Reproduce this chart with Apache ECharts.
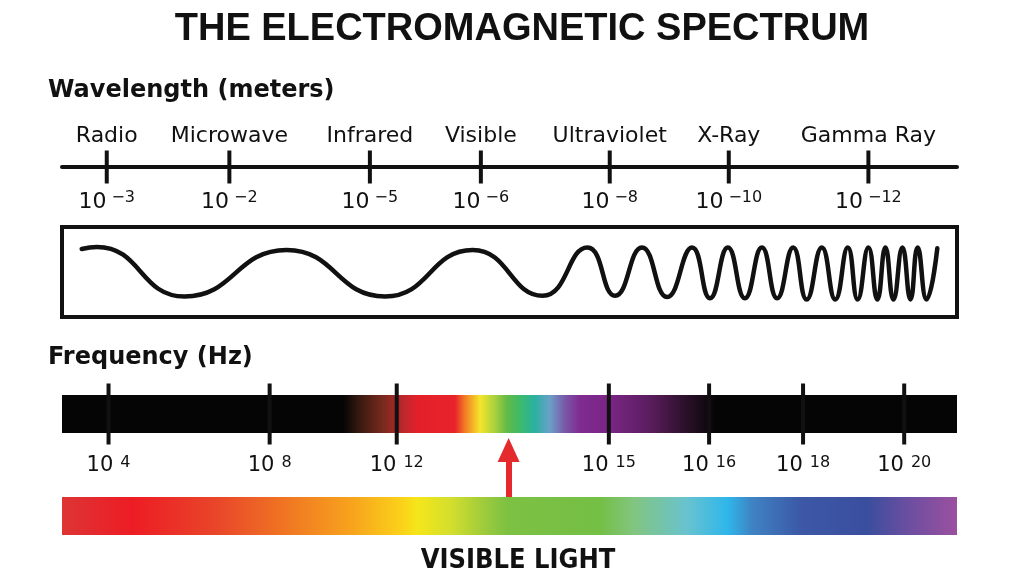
<!DOCTYPE html>
<html>
<head>
<meta charset="utf-8">
<title>The Electromagnetic Spectrum</title>
<script src="https://cdn.jsdelivr.net/npm/echarts@6/dist/echarts.min.js"></script>
<style>
  html, body { margin: 0; padding: 0; background: #fff; }
  #chart { width: 1022px; height: 575px; }
</style>
</head>
<body>
<div id="chart"></div>
<script>
// wavelength scale (top) - positions are % along the scale
const bandNames = ['Radio', 'Microwave', 'Infrared', 'Visible', 'Ultraviolet', 'X-Ray', 'Gamma Ray'];
const wavelengthExp = [-3, -2, -5, -6, -8, -10, -12];
const wavelengthAt = [5.0, 18.7, 34.4, 46.8, 61.2, 74.5, 90.1];

// turning points of the drawn wave (% along, amplitude)
const waveX = [2.2, 3.9, 13.7, 25.1, 36.1, 45.9, 53.7, 58.7, 61.8, 64.8, 67.6, 70.4, 72.4, 74.4, 76.3,
  78.2, 79.9, 81.7, 83.2, 84.9, 86.4, 87.8, 88.9, 90.1, 91.1, 92.0, 92.9, 93.9, 94.8, 95.6, 96.6, 97.8];
const waveY = [0.92, 1.0, -0.98, 0.88, -0.98, 0.88, -0.95, 0.98, -0.95, 0.98, -1.0, 0.98, -1.05, 0.98, -1.05,
  0.98, -1.05, 0.98, -1.1, 0.98, -1.1, 0.98, -1.1, 0.98, -1.1, 0.98, -1.1, 0.98, -1.1, 0.98, -1.1, 0.95];

// frequency scale
const freqExp = [4, 8, 12, 15, 16, 18, 20];
const freqAt = [5.2, 23.2, 37.4, 61.1, 72.3, 82.8, 94.1];
const freqStops = [0, 31.4, 33.3, 35.9, 38.3, 39.7, 43.9, 45.0, 46.7, 48.4, 49.7, 51.2, 52.8, 54.5, 56.2, 57.9, 61.2, 65.7, 69.8, 73.2, 100];
const freqColors = ['#050505', '#050505', '#3a1a10', '#7a2a1e', '#c0272d', '#e3202a', '#e8232a', '#f27a24', '#f5e52a', '#a8d040',
  '#62bb46', '#3dba6a', '#2ab0a0', '#6aa0c8', '#7a58a8', '#7f2b90', '#7a2585', '#5a1d5e', '#2a1028', '#050505', '#050505'];

// visible light
const visibleAt = 49.9;
const visStops = [0, 7.9, 17.3, 24.7, 32.2, 37.8, 39.7, 43.4, 47.0, 49.7, 60.1, 63.8, 69.8, 74.3, 77.2, 82.5, 89.9, 94.4, 100];
const visColors = ['#dd3535', '#ed1c24', '#e9462a', '#f07423', '#f7a21d', '#fbd01a', '#f5e61b', '#d4df2c', '#a0cc3b', '#7dc143',
  '#74bf45', '#82c57e', '#69c3cf', '#2fb7ea', '#3f82c2', '#3c58a7', '#3a4e9e', '#6a4ea0', '#9c50a0'];

const ink = '#111';
const red = '#e42a2d';
const font = '"DejaVu Sans", sans-serif';

const gradient = (stops, colors) => new echarts.graphic.LinearGradient(0, 0, 1, 0,
  stops.map((s, i) => ({ offset: s / 100, color: colors[i] })));
const sup = n => (n < 0 ? '\u2212' + Math.abs(n) : String(n));

const powerLabel = (exps, size, gap, dy) => ({
  show: true,
  position: 'inside',
  offset: [0, dy],
  formatter: p => `{b|10}{s|${sup(exps[p.dataIndex])}}`,
  rich: {
    b: { fontSize: size, fontFamily: font, color: ink, lineHeight: size + 2 },
    s: { fontSize: 16, fontFamily: font, color: ink, lineHeight: 14, verticalAlign: 'top', padding: [0, 0, 0, gap] }
  }
});

const grids = [
  { left: 62, width: 895, top: 120, height: 94 },
  { left: 62, width: 895, top: 227, height: 90, show: true, borderColor: ink, borderWidth: 4 },
  { left: 62, width: 895, top: 395, height: 38 },
  { left: 62, width: 895, top: 450, height: 47 },
  { left: 62, width: 895, top: 497, height: 38 }
];

const hidden = { show: false, splitLine: { show: false } };
const xAxes = grids.map((g, i) => i === 0
  ? { gridIndex: 0, type: 'value', min: 0, max: 100,
      axisLine: { show: true, onZero: true, lineStyle: { color: ink, width: 4, cap: 'round' } },
      axisTick: { show: false }, axisLabel: { show: false }, splitLine: { show: false } }
  : { gridIndex: i, type: 'value', min: 0, max: 100, ...hidden });
const yAxes = [
  { gridIndex: 0, type: 'value', min: -1, max: 1, ...hidden },
  { gridIndex: 1, type: 'value', min: -1.8, max: 1.8, ...hidden },
  { gridIndex: 2, type: 'category', data: ['frequency'], ...hidden },
  { gridIndex: 3, type: 'value', min: 0, max: 1, ...hidden },
  { gridIndex: 4, type: 'category', data: ['visible'], ...hidden }
];

const chart = echarts.init(document.getElementById('chart'));
chart.setOption({
  animation: false,
  backgroundColor: '#fff',
  grid: grids,
  xAxis: xAxes,
  yAxis: yAxes,
  graphic: [
    { type: 'text', x: 522, y: 30, style: { text: 'THE ELECTROMAGNETIC SPECTRUM', font: 'bold 38px "Liberation Sans", Arial, sans-serif',
      fill: ink, textAlign: 'center', align: 'center', textVerticalAlign: 'middle', verticalAlign: 'middle' } },
    { type: 'text', x: 48, y: 91, style: { text: 'Wavelength (meters)', font: 'bold 24px "DejaVu Sans", sans-serif',
      fill: ink, textAlign: 'left', align: 'left', textVerticalAlign: 'middle', verticalAlign: 'middle' } },
    { type: 'text', x: 48, y: 358, style: { text: 'Frequency (Hz)', font: 'bold 24px "DejaVu Sans", sans-serif',
      fill: ink, textAlign: 'left', align: 'left', textVerticalAlign: 'middle', verticalAlign: 'middle' } },
    { type: 'text', x: 518, y: 561, style: { text: 'VISIBLE LIGHT', font: 'bold 27px "DejaVu Sans Condensed", "DejaVu Sans", sans-serif',
      fill: ink, textAlign: 'center', align: 'center', textVerticalAlign: 'middle', verticalAlign: 'middle' } }
  ],
  series: [
    {
      name: 'Bands',
      type: 'scatter',
      xAxisIndex: 0, yAxisIndex: 0,
      data: wavelengthAt.map(x => [x, 0]),
      symbol: 'rect',
      symbolSize: [4, 33],
      clip: false,
      silent: true,
      itemStyle: { color: ink, opacity: 1 },
      label: { show: true, position: 'inside', offset: [0, -31], formatter: p => bandNames[p.dataIndex],
        fontSize: 22, fontFamily: font, color: ink, textBorderWidth: 0 }
    },
    {
      name: 'Wavelength',
      type: 'scatter',
      xAxisIndex: 0, yAxisIndex: 0,
      data: wavelengthAt.map(x => [x, 0]),
      symbolSize: 0,
      clip: false,
      silent: true,
      itemStyle: { opacity: 1 },
      label: powerLabel(wavelengthExp, 22, 5, 35)
    },
    {
      name: 'Wave',
      type: 'line',
      xAxisIndex: 1, yAxisIndex: 1,
      data: waveX.map((x, i) => [x, waveY[i]]),
      smooth: 0.5,
      showSymbol: false,
      silent: true,
      lineStyle: { color: ink, width: 4.5, cap: 'round' }
    },
    {
      name: 'Frequency band',
      type: 'bar',
      xAxisIndex: 2, yAxisIndex: 2,
      data: [100],
      barWidth: '100%',
      silent: true,
      itemStyle: { color: gradient(freqStops, freqColors) }
    },
    {
      name: 'Frequency ticks',
      type: 'scatter',
      xAxisIndex: 2, yAxisIndex: 2,
      data: freqAt.map(x => [x, 0]),
      symbol: 'rect',
      symbolSize: [4, 61],
      clip: false,
      silent: true,
      z: 5,
      itemStyle: { color: ink, opacity: 1 },
      label: powerLabel(freqExp, 21, 7, 52)
    },
    {
      name: 'Arrow',
      type: 'scatter',
      xAxisIndex: 3, yAxisIndex: 3,
      data: [[visibleAt, 0]],
      symbolSize: 0,
      silent: true,
      markLine: {
        silent: true,
        animation: false,
        symbol: ['none', 'triangle'],
        symbolSize: [22, 24],
        label: { show: false },
        lineStyle: { color: red, width: 6, type: 'solid' },
        data: [[{ coord: [visibleAt, 0] }, { coord: [visibleAt, 1] }]]
      }
    },
    {
      name: 'Visible light',
      type: 'bar',
      xAxisIndex: 4, yAxisIndex: 4,
      data: [100],
      barWidth: '100%',
      silent: true,
      itemStyle: { color: gradient(visStops, visColors) }
    }
  ]
});
</script>
</body>
</html>
